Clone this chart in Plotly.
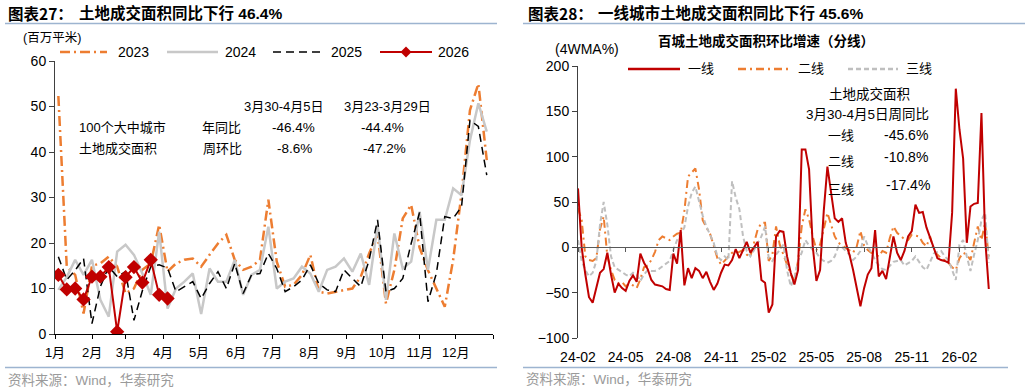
import plotly.graph_objects as go

W, H = 1031, 392

# ---------------- Left chart data (百万平米, weekly) ----------------
month_labels = ["1月", "2月", "3月", "4月", "5月", "6月", "7月", "8月", "9月", "10月", "11月", "12月", ""]
month_start_days = [0, 31, 59, 90, 120, 151, 181, 212, 243, 273, 304, 334, 365]

v2023 = [52.3, 14.8, 13.0, 4.5, 15.0, 15.5, 17.0, 14.8, 8.9, 10.0,
         14.1, 15.5, 24.0, 13.7, 15.5, 16.3, 16.6, 14.8, 17.4, 19.9,
         21.8, 16.3, 14.1, 14.8, 16.3, 29.5, 15.9, 10.4, 10.8, 13.0,
         17.4, 9.3, 8.9, 9.3, 9.7, 10.0, 12.6, 17.7, 22.0, 6.7,
         14.1, 25.4, 28.4, 19.0, 14.0, 10.0, 6.0, 16.3, 30.9, 49.2,
         55.0, 38.2]
v2024 = [9.7, 12.5, 16.3, 13.0, 16.3, 7.5, 3.8, 18.1, 19.6, 17.4,
         13.3, 8.6, 22.5, 5.6, 10.0, 11.5, 13.3, 4.4, 14.4, 11.5,
         11.5, 16.3, 8.6, 13.0, 14.1, 23.6, 10.0, 11.5, 12.2, 14.8,
         13.3, 9.3, 14.1, 14.8, 16.6, 13.7, 17.7, 10.8, 24.0, 7.5,
         22.1, 14.4, 15.9, 26.9, 14.1, 25.1, 25.1, 32.0, 30.5, 42.6,
         50.7, 44.5]
v2025 = [17.0, 11.9, 14.0, 16.6, 2.3, 10.4, 14.8, 12.6, 13.7, 3.0,
         9.5, 14.8, 15.2, 14.5, 9.3, 10.4, 11.5, 7.8, 11.1, 13.7,
         10.0, 15.5, 8.9, 13.0, 13.3, 17.7, 14.4, 9.3, 10.4, 11.9,
         15.2, 11.1, 9.7, 9.3, 14.1, 12.2, 10.4, 16.3, 25.1, 9.3,
         10.0, 12.2, 19.9, 26.7, 7.1, 13.3, 25.8, 25.4, 28.0, 47.0,
         45.6, 34.9]
v2026 = [13.0, 9.8, 10.0, 7.6, 12.6, 12.6, 14.7, 0.5, 12.5, 14.7, 11.3, 16.3, 8.6, 7.8]

# ---------------- Right chart data (4WMA %, weekly) ----------------
right_tick_labels = ["24-02", "24-05", "24-08", "24-11", "25-02", "25-05", "25-08", "25-11", "26-02"]

tier1 = [65, 0, -30, -55, -61, -45, -28, -24, -6, -30,
         -50, -40, -45, -48, -37, -31, -38, -7, -17, -24,
         -36, -41, -42, -43, -46, -47, -7, -18, 19, -42,
         -23, -34, -23, -26, -34, -27, -38, -47, -40, -28,
         -19, -20, -14, -2, -12, -3, 6, -6, 0, 6,
         -36, -39, -72, -63, 12, 18, 17, -10, -28, -41,
         -25, 108, 108, 86, 1, -37, -25, 40, 89, 60,
         32, 28, 32, 5, -8, -25, -46, -65, -45, -30,
         -23, 19, -32, -26, -35, -10, 12, -6, -14, -4,
         12, 18, 47, 38, 39, 22, 10, 0, -12, -14,
         -15, -17, 38, 175, 130, 98, 5, 45, 48, 49,
         148, 10, -46]
tier2 = [43, 30, -10, -14, -15, -12, 20, 34, -10, -25,
         -36, -40, -38, -43, -40, -42, -45, -35, -22, -20,
         -14, -5, 8, 12, 10, 8, 12, 15, 16, 40,
         78, 82, 87, 64, 30, 22, 15, 2, -12, -19,
         -15, -10, -6, -6, -5, -3, -8, -10, 5, 20,
         27, 27, -15, -8, 23, 3, -8, -20, -30, -36,
         -15, 23, 42, 31, 12, -3, 3, 20, 38, 25,
         12, 5, 2, 0, -4, -6, 1, 18, 2, -3,
         -6, -8, -10, -4, -6, 10, 23, 16, 12, 9,
         8, 14, 13, 12, 5, 1, 12, -4, -8, -12,
         -14, -17, -22, -25, -12, -6, -8, -14, 5, 23,
         8, 27, -11]
tier3 = [8, -15, -25, -32, -28, -15, 25, 50, 25, -10,
         -22, -25, -28, -30, -32, -28, -30, -37, -30, -25,
         -26, -26, -24, -21, -18, -15, -3, 8, 15, 22,
         45, 60, 67, 50, 35, 23, 14, 5, -10, -14,
         -10, -14, 73, 55, 42, 12, -4, -10, -3, 5,
         12, 23, -12, -15, -8, -3, 3, -25, -43, -34,
         -15, -6, 8, 2, -3, -6, -12, -15, -17, -15,
         -10, 1, 0, -4, -8, -14, -10, -4, 12, 2,
         -6, -14, -20, -24, -25, -21, -16, -15, -14, -20,
         -17, -15, -10, -16, -22, -25, -15, -7, -5, -4,
         -10, -14, -25, -36, 3, 8, -10, -26, -8, 8,
         30, 38, -17]

# ---------------- helpers ----------------
def px(x):
    return x / W

def py(y):
    return 1 - y / H

FONT = "Arial, 'Liberation Sans', 'Noto Sans CJK SC', sans-serif"
CJK = "'Noto Sans CJK SC', 'Liberation Sans', sans-serif"

ORANGE = "#ED7D31"
GREY = "#C8C8C8"
RED = "#C00000"
RULE = "#9DB4D0"

fig = go.Figure()

# Left chart traces
wk = lambda n: list(range(1, n + 1))
fig.add_trace(go.Scatter(x=wk(len(v2023)), y=v2023, mode="lines", name="2023",
                         line=dict(color=ORANGE, width=2.5, dash="10px,4px,2px,4px"),
                         xaxis="x", yaxis="y", showlegend=False))
fig.add_trace(go.Scatter(x=wk(len(v2024)), y=v2024, mode="lines", name="2024",
                         line=dict(color=GREY, width=2.5),
                         xaxis="x", yaxis="y", showlegend=False))
fig.add_trace(go.Scatter(x=wk(len(v2025)), y=v2025, mode="lines", name="2025",
                         line=dict(color="#000000", width=1.5, dash="8px,5px"),
                         xaxis="x", yaxis="y", showlegend=False))
fig.add_trace(go.Scatter(x=wk(len(v2026)), y=v2026, mode="lines+markers", name="2026",
                         line=dict(color=RED, width=2),
                         marker=dict(symbol="diamond", size=11, color=RED),
                         xaxis="x", yaxis="y", showlegend=False))

# Right chart traces
ridx = list(range(len(tier1)))
fig.add_trace(go.Scatter(x=ridx, y=tier2, mode="lines", name="二线",
                         line=dict(color=ORANGE, width=2, dash="8px,4px,2px,4px"),
                         xaxis="x2", yaxis="y2", showlegend=False))
fig.add_trace(go.Scatter(x=ridx, y=tier3, mode="lines", name="三线",
                         line=dict(color="#BFBFBF", width=2, dash="5px,3px"),
                         xaxis="x2", yaxis="y2", showlegend=False))
fig.add_trace(go.Scatter(x=ridx, y=tier1, mode="lines", name="一线",
                         line=dict(color=RED, width=2),
                         xaxis="x2", yaxis="y2", showlegend=False))

left_tickvals = [0.6 + d / 7 for d in month_start_days]
right_tickvals = [13 * i for i in range(len(right_tick_labels))]

ydom_l = [1 - 334 / H, 1 - 61 / H]
ydom_r = [1 - 338 / H, 1 - 66 / H]
zero_pos = ydom_r[0] + (0 - (-100)) / 300 * (ydom_r[1] - ydom_r[0])

fig.update_layout(
    template="none",
    width=W, height=H,
    margin=dict(l=0, r=0, t=0, b=0, pad=0, autoexpand=False),
    paper_bgcolor="white", plot_bgcolor="white",
    showlegend=False,
    font=dict(family=FONT, size=13, color="#000000"),
    xaxis=dict(domain=[px(55), px(493)], range=[0.6, left_tickvals[-1]],
               tickmode="array", tickvals=left_tickvals, ticktext=month_labels,
               showline=True, linecolor="#000000", linewidth=1,
               ticks="outside", ticklen=4, tickcolor="#000000",
               ticklabelstandoff=2,
               showgrid=False, zeroline=False, anchor="y", automargin=False,
               tickfont=dict(size=13, family=FONT, color="#000000")),
    yaxis=dict(domain=ydom_l, range=[0, 60], dtick=10, tickmode="linear", tick0=0,
               showline=True, linecolor="#404040", linewidth=1,
               ticks="outside", ticklen=5, tickcolor="#404040",
               showgrid=False, zeroline=False, anchor="x", automargin=False,
               tickfont=dict(size=14, family=FONT, color="#000000")),
    xaxis2=dict(domain=[px(578), px(991)], range=[0, 112.6],
                tickmode="array", tickvals=right_tickvals, ticktext=right_tick_labels,
                anchor="free", position=zero_pos,
                showline=True, linecolor="#595959", linewidth=1,
                ticks="outside", ticklen=4, tickcolor="#595959",
                ticklabelstandoff=93,
                showgrid=False, zeroline=False, automargin=False,
                tickfont=dict(size=14, family=FONT, color="#000000")),
    yaxis2=dict(domain=ydom_r, range=[-100, 200], dtick=50, tickmode="linear", tick0=0,
                showline=True, linecolor="#404040", linewidth=1,
                ticks="outside", ticklen=5, tickcolor="#404040",
                showgrid=False, zeroline=False, anchor="x2", automargin=False,
                tickfont=dict(size=14, family=FONT, color="#000000")),
)

shapes = []
annotations = []

def hline(x0, x1, y, color, width=1.5, dash="solid"):
    shapes.append(dict(type="line", xref="paper", yref="paper",
                       x0=px(x0), x1=px(x1), y0=py(y), y1=py(y),
                       line=dict(color=color, width=width, dash=dash)))

def text(t, x, y, size=13, anchor="left", color="#000000", family=FONT):
    annotations.append(dict(text=t, x=px(x), y=py(y), xref="paper", yref="paper",
                            xanchor=anchor, yanchor="middle", showarrow=False,
                            font=dict(size=size, color=color, family=family)))

# Titles and rules
text("<b>图表27：</b>", 6, 13, size=15.5, family=CJK)
text("<b>土地成交面积同比下行 46.4%</b>", 77, 13, size=15.5, family=FONT)
text("<b>图表28：</b>", 526, 13, size=15.5, family=CJK)
text("<b>一线城市土地成交面积同比下行 45.6%</b>", 596, 13, size=15.5, family=FONT)
hline(5, 497, 23.5, RULE, 1.5)
hline(523, 1025, 23.5, RULE, 1.5)
hline(5, 497, 367.5, RULE, 1.5)
hline(523, 1008, 367.5, RULE, 1.5)
text("资料来源：Wind，华泰研究", 6, 380, size=13.5, color="#9A9A9A")
text("资料来源：Wind，华泰研究", 524, 379, size=13.5, color="#9A9A9A")

# Left chart unit & legend
text("(百万平米)", 21, 38, size=12.5)
hline(60, 107, 52, ORANGE, 2.5, "10px,4px,2px,4px")
text("2023", 116, 52, size=14)
hline(167, 218, 52, GREY, 2.5)
text("2024", 223, 52, size=14)
hline(273, 325, 52, "#000000", 1.5, "8px,5px")
text("2025", 329, 52, size=14)
hline(380, 432, 52, RED, 2)
cx, cy, r = 406, 52, 5.5
shapes.append(dict(type="path", xref="paper", yref="paper",
                   path=f"M {px(cx - r)},{py(cy)} L {px(cx)},{py(cy - r)} L {px(cx + r)},{py(cy)} L {px(cx)},{py(cy + r)} Z",
                   fillcolor=RED, line=dict(color=RED, width=0)))
text("2026", 436, 52, size=14)

# Left chart in-plot table
text("3月30-4月5日", 283, 106, size=13, anchor="center")
text("3月23-3月29日", 387, 106, size=13, anchor="center")
text("100个大中城市", 77, 128, size=13)
text("年同比", 200, 127, size=13)
text("-46.4%", 293, 127, size=13.5, anchor="center")
text("-44.4%", 382, 127, size=13.5, anchor="center")
text("土地成交面积", 77, 148, size=13)
text("周环比", 201, 148, size=13)
text("-8.6%", 294, 148, size=13.5, anchor="center")
text("-47.2%", 384, 148, size=13.5, anchor="center")

# Right chart title, unit, legend
text("<b>百城土地成交面积环比增速（分线）</b>", 766, 40, size=13.5, anchor="center", family=CJK)
text("(4WMA%)", 587, 49, size=14, anchor="center")
hline(628, 680, 69, RED, 2.5)
text("一线", 686, 69, size=13)
hline(738, 790, 69, ORANGE, 2.5, "8px,4px,2px,4px")
text("二线", 796, 69, size=13)
hline(848, 898, 69, "#BFBFBF", 2.5, "5px,3px")
text("三线", 904, 69, size=13)

# Right chart in-plot annotation
text("土地成交面积", 869, 94, size=13.5, anchor="center")
text("3月30-4月5日周同比", 867, 114, size=13.5, anchor="center")
text("一线", 826, 135, size=13)
text("-45.6%", 906, 135, size=14, anchor="center")
text("二线", 826, 162, size=13)
text("-10.8%", 906, 157, size=14, anchor="center")
text("三线", 826, 189, size=13)
text("-17.4%", 908, 185, size=14, anchor="center")

fig.update_layout(shapes=shapes, annotations=annotations)

# remove the default 8px page margin so the figure sits at the window's top-left corner
fig.write_html("out.html", config={"displayModeBar": False},
               post_script="document.body.style.margin='0';")
